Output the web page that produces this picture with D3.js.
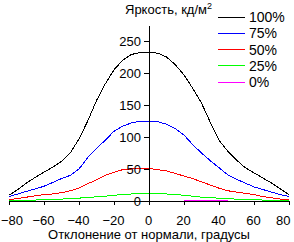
<!DOCTYPE html>
<html>
<head>
<meta charset="utf-8">
<script src="https://cdn.jsdelivr.net/npm/d3@7"></script>
<style>
  html, body { margin: 0; padding: 0; background: #fff; }
  svg { display: block; font-family: "Liberation Sans", Arial, sans-serif; }
  text { fill: #000; }
</style>
</head>
<body>
<svg id="chart" width="294" height="242"></svg>
<script>
// ---- data ----
const angles = [-80,-75,-70,-65,-60,-55,-50,-45,-40,-35,-30,-25,-20,-15,-10,-5,0,5,10,15,20,25,30,35,40,45,50,55,60,65,70,75,80];
const lum100 = [9,18,28,37,45,53,62,75,97,125,157,183,205,220,229,232,232,231,225,213,197,176,153,123,95,78,64,52,44,36,28,19,10];
const lum75  = [7,11,15,19,23,29,35,40,50,68,82,95,109,117,122,125,125,124,120,113,103,88,75,63,52,41,34,28,22,18,14,10,7];
const lum50  = [2,4,6,8,10,11,13,16,20,27,33,40,45,49,50,51,51,49,47,43,39,35,30,25,20,16,14,12,10,7,5,3,2];
const lum25  = [0.5,1,1.2,1.5,2,2.5,3,3.8,4.5,5.5,6.5,7.5,9,10,11,12,12,12,11,10,9,7.5,6,5,4.5,3.5,3,2.5,2,1.5,1,0.8,0.5];
const lum0   = [0,0,0,0,0,0,0,0,0,0,0,0,0,0,0,0,0,0,0,0,0,0.2,1.2,1.2,0.2,0,0,0,0,0,0,0,0];
const seriesNames = ["100%","75%","50%","25%","0%"];
const seriesColors = ["#000000","#0000ff","#ff0000","#00ff00","#ff00ff"];
const seriesValues = [lum100, lum75, lum50, lum25, lum0];
const xTicks = [-80,-60,-40,-20,0,20,40,60,80];
const yTicks = [0,50,100,150,200,250];
const xTitle = "Отклонение от нормали, градусы";
const yTitle = "Яркость, кд/м";

// ---- chart ----
const svg = d3.select("#chart");
const x = d3.scaleLinear().domain([-80, 80]).range([9, 289]);
const y = d3.scaleLinear().domain([0, 275]).range([201, 25]);

const line = d3.line().x((d, i) => x(angles[i])).y(d => y(d));

// curves (draw 0% first so others sit above)
const order = [4, 3, 2, 1, 0];
svg.append("g").selectAll("path").data(order).join("path")
  .attr("d", k => line(seriesValues[k]))
  .attr("fill", "none")
  .attr("stroke", k => seriesColors[k])
  .attr("stroke-width", 1)
  .attr("shape-rendering", "crispEdges");

// x axis
const gx = svg.append("g")
  .attr("transform", `translate(0,${y(0)})`)
  .call(d3.axisBottom(x).tickValues(xTicks).tickSize(4).tickSizeOuter(0).tickPadding(11));
gx.select(".domain").attr("shape-rendering", "crispEdges");
gx.selectAll(".tick line").attr("shape-rendering", "crispEdges");
gx.selectAll(".tick text")
  .attr("font-size", 13).attr("font-family", "Liberation Sans, Arial, sans-serif")
  .attr("text-anchor", d => d === 80 ? "end" : (d === -80 ? "start" : "middle"))
  .attr("dx", d => d === 80 ? 1 : (d === -80 ? -8.5 : -1));

// y axis
const gy = svg.append("g")
  .attr("transform", `translate(${x(0)},0)`)
  .call(d3.axisLeft(y).tickValues(yTicks).tickSize(5).tickSizeOuter(0).tickPadding(3));
gy.select(".domain").attr("shape-rendering", "crispEdges");
gy.selectAll(".tick line").attr("shape-rendering", "crispEdges");
gy.selectAll(".tick text")
  .attr("font-size", 13).attr("font-family", "Liberation Sans, Arial, sans-serif");

// titles
const yt = svg.append("text").attr("x", 125).attr("y", 13.5).attr("font-size", 13);
yt.append("tspan").text(yTitle);
yt.append("tspan").attr("font-size", 9).attr("dy", -5).text("2");

svg.append("text").attr("x", x(0)).attr("y", 239).attr("text-anchor", "middle")
  .attr("font-size", 13).text(xTitle);

// legend
const legend = svg.append("g").selectAll("g").data(seriesNames).join("g")
  .attr("transform", (d, i) => `translate(218,${17 + i * 16.3})`);
legend.append("line").attr("x1", 0).attr("x2", 27).attr("y1", 0).attr("y2", 0)
  .attr("stroke", (d, i) => seriesColors[i]).attr("shape-rendering", "crispEdges");
legend.append("text").attr("x", 31).attr("y", 5).attr("font-size", 14).text(d => d);
</script>
</body>
</html>
